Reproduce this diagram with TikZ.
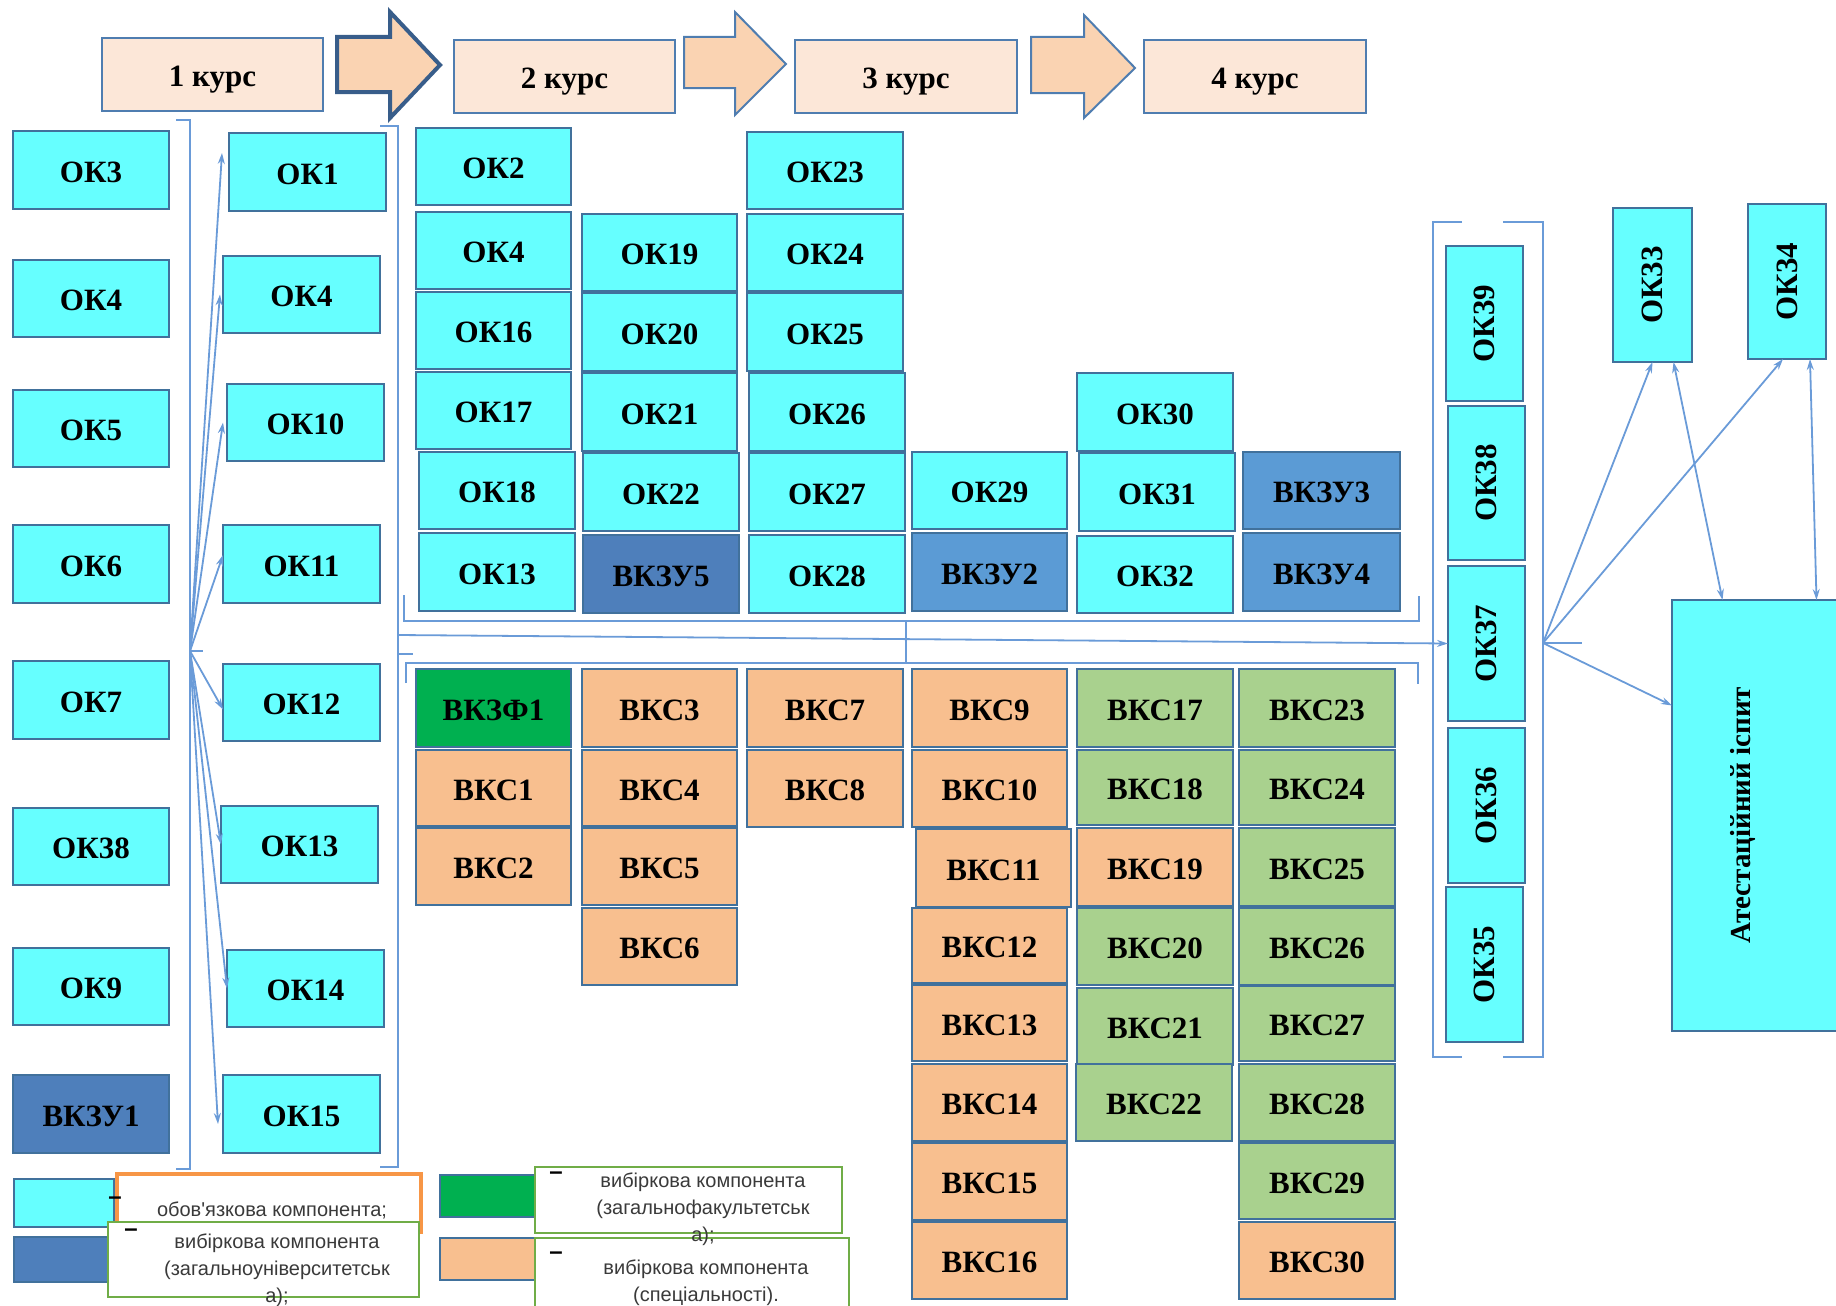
\documentclass[tikz,border=0pt]{standalone}
\usepackage{fontspec}
\setmainfont{Liberation Serif}
\newfontfamily\lsans{Liberation Sans}
\usetikzlibrary{arrows.meta}
\definecolor{cyanF}{HTML}{66FFFF}
\definecolor{boxB}{HTML}{41719C}
\definecolor{dblueF}{HTML}{4E7FBB}
\definecolor{mblueF}{HTML}{5B9BD5}
\definecolor{greenF}{HTML}{00B050}
\definecolor{peachF}{HTML}{F8BF8F}
\definecolor{lgreenF}{HTML}{A9D18E}
\definecolor{headF}{HTML}{FCE7D8}
\definecolor{headB}{HTML}{4F7DB0}
\definecolor{arrF}{HTML}{FAD3B2}
\definecolor{arrB}{HTML}{385D8A}
\definecolor{lineC}{HTML}{6A9BD8}
\definecolor{orangeB}{HTML}{F79646}
\definecolor{legG}{HTML}{70AD47}
\definecolor{legC}{HTML}{3A3A3A}
\newcommand\mybox[7]{\node[#6, minimum width={(#4-#2)*1pt}, minimum height={(#5-#3)*1pt}] (#1) at ({(#2+#4)/2},{(#3+#5)/2}) {#7};}
\tikzset{
 basebox/.style={draw=boxB, line width=2.2pt, inner sep=0pt, outer sep=0pt, font=\fontsize{31}{36}\selectfont\bfseries, text=black},
 box/.style={basebox, text height=24pt, text depth=0pt},
 ok/.style={box, fill=cyanF},
 rok/.style={basebox, fill=cyanF},
 vz/.style={box, fill=dblueF},
 vm/.style={box, fill=mblueF},
 vf/.style={box, fill=greenF},
 vp/.style={box, fill=peachF},
 vg/.style={box, fill=lgreenF},
 hd/.style={box, fill=headF, draw=headB},
 conn/.style={draw=lineC, line width=1.8pt},
 arr/.style={conn, -{Stealth[length=11pt,width=7pt]}},
 darr/.style={conn, {Stealth[length=11pt,width=7pt]}-{Stealth[length=11pt,width=7pt]}},
 legbox/.style={fill=white, draw=legG, line width=2.5pt, inner sep=0pt, outer sep=0pt},
 legsq/.style={basebox},
 legtext/.style={font=\lsans\fontsize{20}{27}\selectfont, text=legC, align=center, inner sep=0pt},
 legdash/.style={font=\lsans\bfseries\fontsize{24}{24}\selectfont, text=black, inner sep=0pt},
 bigarrow/.style={fill=arrF, draw=headB, line width=2pt, line join=miter},
}
\begin{document}
\begin{tikzpicture}[x=1pt,y=-1pt]
\useasboundingbox (0,0) rectangle (1836,1306);
% header
\mybox{h1}{102}{38}{323}{111}{hd}{1 курс}
\mybox{h2}{454}{40}{675}{113}{hd}{2 курс}
\mybox{h3}{795}{40}{1017}{113}{hd}{3 курс}
\mybox{h4}{1144}{40}{1366}{113}{hd}{4 курс}
\draw[bigarrow, draw=arrB, line width=4pt] (337,37) -- (390,37) -- (390,12) -- (440,65) -- (390,118) -- (390,92) -- (337,92) -- cycle;
\draw[bigarrow] (684,37) -- (735,37) -- (735,12) -- (786,64) -- (735,115) -- (735,88) -- (684,88) -- cycle;
\draw[bigarrow] (1031,37) -- (1084,37) -- (1084,15) -- (1135,68) -- (1084,118) -- (1084,93) -- (1031,93) -- cycle;
% column 1
\mybox{a1}{13}{131}{169}{209}{ok}{ОК3}
\mybox{a2}{13}{260}{169}{337}{ok}{ОК4}
\mybox{a3}{13}{390}{169}{467}{ok}{ОК5}
\mybox{a4}{13}{525}{169}{603}{ok}{ОК6}
\mybox{a5}{13}{661}{169}{739}{ok}{ОК7}
\mybox{a6}{13}{808}{169}{885}{ok}{ОК38}
\mybox{a7}{13}{948}{169}{1025}{ok}{ОК9}
\mybox{a8}{13}{1075}{169}{1153}{vz}{ВКЗУ1}
% column 2
\mybox{b1}{229}{133}{386}{211}{ok}{ОК1}
\mybox{b2}{223}{256}{380}{333}{ok}{ОК4}
\mybox{b3}{227}{384}{384}{461}{ok}{ОК10}
\mybox{b4}{223}{525}{380}{603}{ok}{ОК11}
\mybox{b5}{223}{664}{380}{741}{ok}{ОК12}
\mybox{b6}{221}{806}{378}{883}{ok}{ОК13}
\mybox{b7}{227}{950}{384}{1027}{ok}{ОК14}
\mybox{b8}{223}{1075}{380}{1153}{ok}{ОК15}
% middle top
\mybox{m1}{416}{128}{571}{205}{ok}{ОК2}
\mybox{m2}{416}{212}{571}{289}{ok}{ОК4}
\mybox{m3}{416}{292}{571}{369}{ok}{ОК16}
\mybox{m4}{416}{372}{571}{449}{ok}{ОК17}
\mybox{m5}{419}{452}{575}{529}{ok}{ОК18}
\mybox{m6}{419}{533}{575}{611}{ok}{ОК13}
\mybox{n1}{582}{214}{737}{291}{ok}{ОК19}
\mybox{n2}{582}{293}{737}{371}{ok}{ОК20}
\mybox{n3}{582}{373}{737}{451}{ok}{ОК21}
\mybox{n4}{583}{453}{739}{531}{ok}{ОК22}
\mybox{n5}{583}{535}{739}{613}{vz}{ВКЗУ5}
\mybox{p1}{747}{132}{903}{209}{ok}{ОК23}
\mybox{p2}{747}{214}{903}{291}{ok}{ОК24}
\mybox{p3}{747}{293}{903}{371}{ok}{ОК25}
\mybox{p4}{749}{373}{905}{451}{ok}{ОК26}
\mybox{p5}{749}{453}{905}{531}{ok}{ОК27}
\mybox{p6}{749}{535}{905}{613}{ok}{ОК28}
\mybox{q1}{912}{452}{1067}{529}{ok}{ОК29}
\mybox{q2}{912}{533}{1067}{611}{vm}{ВКЗУ2}
\mybox{r1}{1077}{373}{1233}{451}{ok}{ОК30}
\mybox{r2}{1079}{453}{1235}{531}{ok}{ОК31}
\mybox{r3}{1077}{536}{1233}{613}{ok}{ОК32}
\mybox{s1}{1243}{452}{1400}{529}{vm}{ВКЗУ3}
\mybox{s2}{1243}{533}{1400}{611}{vm}{ВКЗУ4}
% middle bottom
\mybox{v1}{416}{669}{571}{747}{vf}{ВКЗФ1}
\mybox{v2}{416}{750}{571}{826}{vp}{ВКС1}
\mybox{v3}{416}{828}{571}{905}{vp}{ВКС2}
\mybox{w1}{582}{669}{737}{747}{vp}{ВКС3}
\mybox{w2}{582}{750}{737}{826}{vp}{ВКС4}
\mybox{w3}{582}{828}{737}{905}{vp}{ВКС5}
\mybox{w4}{582}{908}{737}{985}{vp}{ВКС6}
\mybox{x1}{747}{669}{903}{747}{vp}{ВКС7}
\mybox{x2}{747}{750}{903}{827}{vp}{ВКС8}
\mybox{y1}{912}{669}{1067}{747}{vp}{ВКС9}
\mybox{y2}{912}{750}{1067}{827}{vp}{ВКС10}
\mybox{y3}{916}{829}{1071}{907}{vp}{ВКС11}
\mybox{y4}{912}{908}{1067}{983}{vp}{ВКС12}
\mybox{y5}{912}{985}{1067}{1061}{vp}{ВКС13}
\mybox{y6}{912}{1064}{1067}{1141}{vp}{ВКС14}
\mybox{y7}{912}{1143}{1067}{1220}{vp}{ВКС15}
\mybox{y8}{912}{1222}{1067}{1299}{vp}{ВКС16}
\mybox{z1}{1077}{669}{1233}{747}{vg}{ВКС17}
\mybox{z2}{1077}{750}{1233}{825}{vg}{ВКС18}
\mybox{z3}{1077}{828}{1233}{906}{vp}{ВКС19}
\mybox{z4}{1077}{908}{1233}{985}{vg}{ВКС20}
\mybox{z5}{1077}{988}{1233}{1065}{vg}{ВКС21}
\mybox{z6}{1076}{1064}{1232}{1141}{vg}{ВКС22}
\mybox{u1}{1239}{669}{1395}{747}{vg}{ВКС23}
\mybox{u2}{1239}{750}{1395}{825}{vg}{ВКС24}
\mybox{u3}{1239}{828}{1395}{906}{vg}{ВКС25}
\mybox{u4}{1239}{908}{1395}{985}{vg}{ВКС26}
\mybox{u5}{1239}{986}{1395}{1061}{vg}{ВКС27}
\mybox{u6}{1239}{1064}{1395}{1141}{vg}{ВКС28}
\mybox{u7}{1239}{1143}{1395}{1219}{vg}{ВКС29}
\mybox{u8}{1239}{1222}{1395}{1299}{vp}{ВКС30}
% right side
\mybox{k39}{1446}{246}{1523}{401}{rok}{\rotatebox{90}{ОК39}}
\mybox{k38}{1448}{406}{1525}{560}{rok}{\rotatebox{90}{ОК38}}
\mybox{k37}{1448}{566}{1525}{721}{rok}{\rotatebox{90}{ОК37}}
\mybox{k36}{1448}{728}{1525}{883}{rok}{\rotatebox{90}{ОК36}}
\mybox{k35}{1446}{887}{1523}{1042}{rok}{\rotatebox{90}{ОК35}}
\mybox{k33}{1613}{208}{1692}{362}{rok}{\rotatebox{90}{ОК33}}
\mybox{k34}{1748}{204}{1826}{359}{rok}{\rotatebox{90}{ОК34}}
\mybox{ex}{1672}{600}{1845}{1031}{rok}{}
\node[font=\fontsize{29}{34}\selectfont\bfseries, inner sep=0pt] (ext) at (1743,815) {\rotatebox{90}{Атестаційний іспит}};
% left connectors
\draw[conn] (176,120) -- (190,120) -- (190,1169) -- (176,1169);
\coordinate (lo) at (190,651);
\draw[conn] (lo) -- (203,651);
\draw[arr] (lo) -- ([xshift=-7pt,yshift=19pt]b1.west);
\draw[arr] (lo) -- ([xshift=-3pt]b2.west);
\draw[arr] (lo) -- ([xshift=-4pt]b3.west);
\draw[arr] (lo) -- ([yshift=9pt]b4.west);
\draw[arr] (lo) -- ([yshift=-7pt]b5.west);
\draw[arr] (lo) -- (b6.west);
\draw[arr] (lo) -- (b7.west);
\draw[arr] (lo) -- ([xshift=-5pt,yshift=-10pt]b8.west);
% middle connectors
\draw[conn] (380,126) -- (398,126) -- (398,1167) -- (380,1167);
\draw[conn] (404,595) -- (404,621) -- (1419,621) -- (1419,596);
\draw[conn] (406,683) -- (406,663) -- (1418,663) -- (1418,684);
\draw[conn] (906,621) -- (906,663);
\draw[conn] (398,654) -- (413,654);
\coordinate (mo) at (398,635);
\draw[arr] (mo) -- (k37.west);
% right connectors
\draw[conn] (1462,222) -- (1433,222) -- (1433,1057) -- (1462,1057);
\draw[conn] (1503,222) -- (1543,222) -- (1543,1057) -- (1503,1057);
\coordinate (ro) at (1543,643);
\draw[conn] (ro) -- (1582,643);
\draw[arr] (ro) -- (k33.south);
\draw[arr] (ro) -- ([xshift=-4pt]k34.south);
\draw[arr] (ro) -- ([yshift=110pt]ex.west);
\draw[darr] ([xshift=21pt]k33.south) -- ([xshift=-36pt]ex.north);
\draw[darr] ([xshift=23pt]k34.south) -- ([xshift=58pt]ex.north);
% legend
\mybox{lq1}{14}{1179}{114}{1227}{rok}{}
\mybox{lq2}{14}{1237}{112}{1282}{legsq, fill=dblueF}{}
\mybox{lq3}{440}{1175}{537}{1217}{legsq, fill=greenF}{}
\mybox{lq4}{440}{1238}{537}{1280}{legsq, fill=peachF}{}
\mybox{lb1}{117}{1174}{421}{1232}{legbox, draw=orangeB, line width=4pt}{}
\mybox{lb2}{108}{1222}{419}{1297}{legbox}{}
\mybox{lb3}{535}{1167}{842}{1233}{legbox}{}
\mybox{lb4}{535}{1238}{849}{1320}{legbox}{}
\node[legtext] (lt1) at (272,1210) {обов'язкова компонента;};
\node[legtext] (lt2) at (277,1270) {вибіркова компонента\\(загальноуніверситетськ\\а);};
\node[legtext] (lt3) at (703,1209) {вибіркова компонента\\(загальнофакультетськ\\а);};
\node[legtext] (lt4) at (706,1283) {вибіркова компонента\\(спеціальності).};
\node[legdash] (ld1) at (115,1201) {–};
\node[legdash] (ld2) at (131,1233) {–};
\node[legdash] (ld3) at (556,1176) {–};
\node[legdash] (ld4) at (556,1256) {–};
\end{tikzpicture}
\end{document}
